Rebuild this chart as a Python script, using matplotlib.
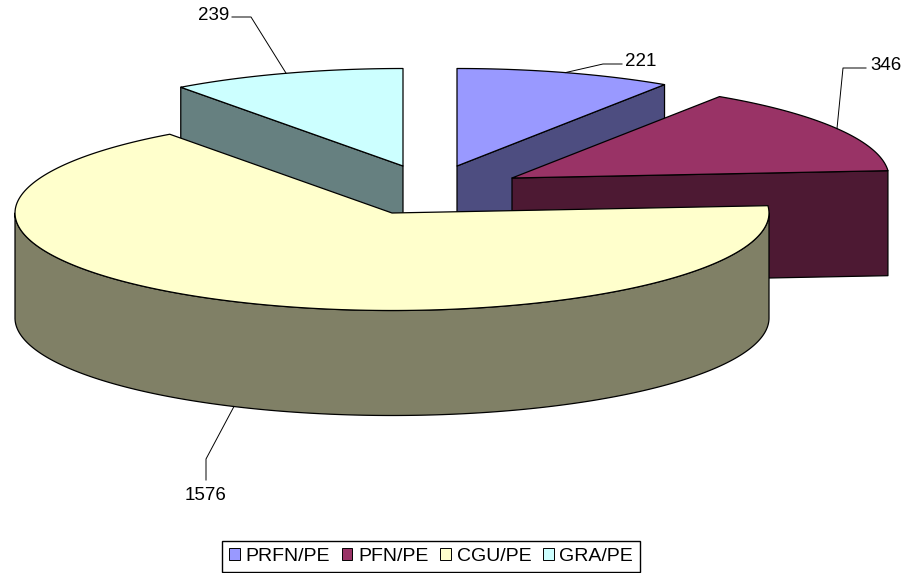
import numpy as np
import matplotlib
matplotlib.use('Agg')
import matplotlib.pyplot as plt
from matplotlib.patches import Polygon, Patch

plt.rcParams['font.family'] = ['Liberation Sans', 'DejaVu Sans']

names = ['PRFN/PE', 'PFN/PE', 'CGU/PE', 'GRA/PE']
values = [221, 346, 1576, 239]
top_colors = ['#9999FF', '#993366', '#FFFFCC', '#CCFFFF']
side_colors = ['#4D4D80', '#4D1933', '#808066', '#668080']

# layout, in picture pixels
apex_x = [457, 512, 392, 403]
apex_y = [166, 178, 213, 166]
rx, ry, depth = 377, 97.5, 105
elbow = [(603, 64), (843, 68), (206, 459), (251, 17)]
line_end = [(622, 64), (866, 68), (206, 480), (232, 17)]
label_pos = [(625, 61), (870, 65), (206, 495), (229, 16)]
label_ha = ['left', 'left', 'center', 'right']
draw_order = [3, 0, 1, 2]

fig = plt.figure(figsize=(9.06, 5.73), dpi=100)
ax = fig.add_axes([0, 0, 1, 1])
ax.set_xlim(0, 906)
ax.set_ylim(573, 0)
ax.axis('off')


def rim(i, a):
    # a is degrees clockwise from 12 o'clock
    r = np.radians(a)
    return apex_x[i] + rx * np.sin(r), apex_y[i] - ry * np.cos(r)


def cut_face(i, a):
    xc, yc = rim(i, a)
    return [(apex_x[i], apex_y[i]), (xc, yc), (xc, yc + depth),
            (apex_x[i], apex_y[i] + depth)]


total = sum(values)
edges = np.concatenate([[0], np.cumsum(values) / total * 360])
st = dict(edgecolor='black', linewidth=0.9, joinstyle='round')

for i in draw_order:
    a0, a1 = edges[i], edges[i + 1]
    x, y = rim(i, np.linspace(a0, a1, 200))
    top = np.column_stack([np.r_[apex_x[i], x], np.r_[apex_y[i], y]])

    # flat cut faces turned towards the viewer
    if a1 < 180:
        ax.add_patch(Polygon(cut_face(i, a1), facecolor=side_colors[i], **st))
    if a0 > 180:
        ax.add_patch(Polygon(cut_face(i, a0), facecolor=side_colors[i], **st))

    # outer wall, front half of the rim
    lo, hi = max(a0, 90), min(a1, 270)
    if hi > lo:
        xs, ys = rim(i, np.linspace(lo, hi, 300))
        wall = np.column_stack([np.r_[xs, xs[::-1]], np.r_[ys, ys[::-1] + depth]])
        ax.add_patch(Polygon(wall, facecolor=side_colors[i], **st))

    ax.add_patch(Polygon(top, facecolor=top_colors[i], **st))

# leader lines and value labels
for i in range(4):
    mid = (edges[i] + edges[i + 1]) / 2
    xa, ya = rim(i, mid)
    if 90 < mid < 270:
        ya += depth
    ax.plot([xa, elbow[i][0], line_end[i][0]], [ya, elbow[i][1], line_end[i][1]],
            color='black', lw=0.7)
    ax.text(label_pos[i][0], label_pos[i][1], str(values[i]), fontsize=13.5,
            ha=label_ha[i], va='center', color='black')

handles = [Patch(facecolor=c, edgecolor='black', linewidth=0.7) for c in top_colors]
leg = ax.legend(handles, names, ncol=4, fontsize=14, loc='center',
                bbox_to_anchor=(431 / 906, 1 - 556.5 / 573), fancybox=False,
                framealpha=1, edgecolor='black', handlelength=0.55, handleheight=0.55,
                handletextpad=0.3, columnspacing=0.6, borderpad=0.35, borderaxespad=0)
leg.get_frame().set_linewidth(1.0)

fig.savefig('out.png', dpi=100)
